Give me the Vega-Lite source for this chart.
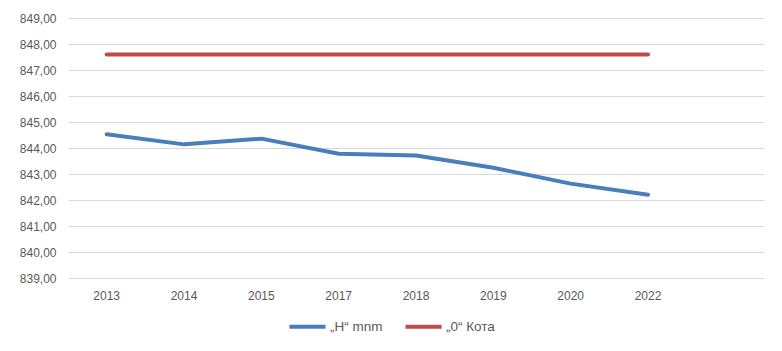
{
  "$schema": "https://vega.github.io/schema/vega-lite/v6.json",
  "autosize": "none",
  "width": 696,
  "height": 260,
  "padding": {"left": 68, "top": 18, "right": 18, "bottom": 73},
  "background": "white",
  "config": {
    "view": {"stroke": null},
    "font": "Liberation Sans",
    "axis": {"labelFont": "Liberation Sans", "labelFontSize": 12, "labelColor": "#595959"}
  },
  "data": {
    "values": [
      {"year": "2013", "series": "„H“ mnm", "value": 844.53},
      {"year": "2014", "series": "„H“ mnm", "value": 844.14},
      {"year": "2015", "series": "„H“ mnm", "value": 844.36},
      {"year": "2017", "series": "„H“ mnm", "value": 843.78},
      {"year": "2018", "series": "„H“ mnm", "value": 843.71},
      {"year": "2019", "series": "„H“ mnm", "value": 843.24},
      {"year": "2020", "series": "„H“ mnm", "value": 842.63},
      {"year": "2022", "series": "„H“ mnm", "value": 842.2},
      {"year": "2013", "series": "„0“ Кота", "value": 847.6},
      {"year": "2014", "series": "„0“ Кота", "value": 847.6},
      {"year": "2015", "series": "„0“ Кота", "value": 847.6},
      {"year": "2017", "series": "„0“ Кота", "value": 847.6},
      {"year": "2018", "series": "„0“ Кота", "value": 847.6},
      {"year": "2019", "series": "„0“ Кота", "value": 847.6},
      {"year": "2020", "series": "„0“ Кота", "value": 847.6},
      {"year": "2022", "series": "„0“ Кота", "value": 847.6}
    ]
  },
  "mark": {"type": "line", "strokeWidth": 4, "strokeCap": "round", "strokeJoin": "round"},
  "encoding": {
    "x": {
      "field": "year", "type": "ordinal",
      "scale": {"domain": ["2013", "2014", "2015", "2017", "2018", "2019", "2020", "2022", ""], "type": "band", "paddingInner": 0, "paddingOuter": 0},
      "axis": {"title": null, "labelAngle": 0, "ticks": false, "domain": false, "grid": false, "labelPadding": 12}
    },
    "y": {
      "field": "value", "type": "quantitative",
      "scale": {"domain": [839, 849], "nice": false, "zero": false},
      "axis": {
        "title": null, "values": [839, 840, 841, 842, 843, 844, 845, 846, 847, 848, 849],
        "labelExpr": "replace(format(datum.value, '.2f'), '.', ',')",
        "ticks": false, "domain": false, "gridColor": "#d9d9d9", "gridWidth": 1, "labelPadding": 12
      }
    },
    "color": {
      "field": "series", "type": "nominal",
      "scale": {"domain": ["„H“ mnm", "„0“ Кота"], "range": ["#4a7ebb", "#be4b48"]},
      "legend": {
        "title": null, "orient": "none", "legendX": 219, "legendY": 288, "direction": "horizontal",
        "symbolType": "stroke", "symbolSize": 1300, "symbolStrokeWidth": 4,
        "labelFontSize": 13.5, "labelColor": "#595959", "labelFont": "Liberation Sans",
        "columnPadding": 14, "labelOffset": 2
      }
    }
  }
}
